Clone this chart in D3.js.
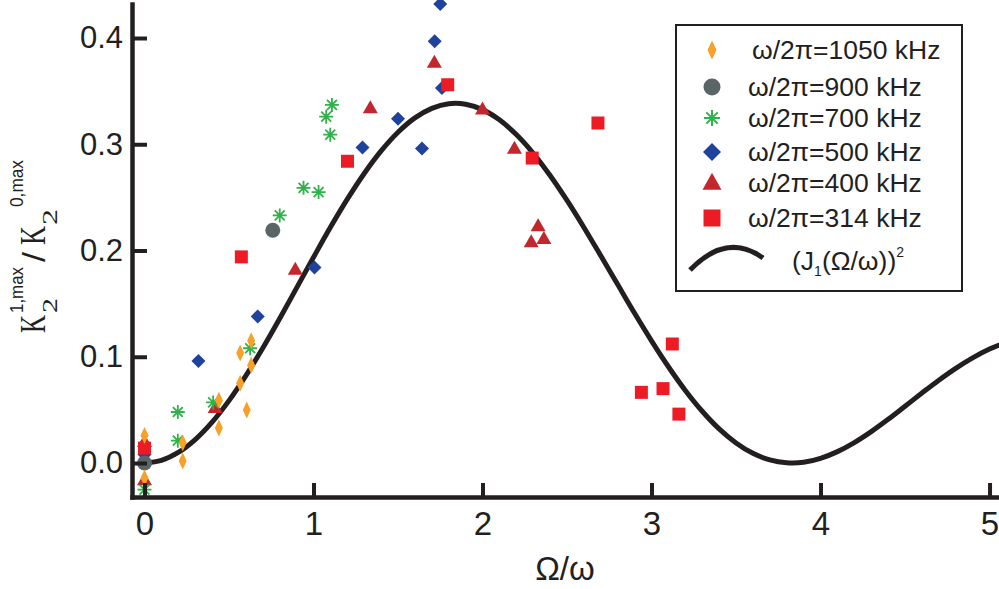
<!DOCTYPE html>
<html><head><meta charset="utf-8">
<script src="https://cdn.jsdelivr.net/npm/d3@7"></script>
<style>body{margin:0;background:#fff}svg{display:block}</style>
</head><body>
<svg id="c" width="999" height="589"></svg>
<script>
// ---- data ----
const xTicks = [0, 1, 2, 3, 4, 5];
const yTicks = [0.0, 0.1, 0.2, 0.3, 0.4];

const s1050 = [[0,0.026],[0,-0.014],[0.226,0.019],[0.226,0.002],[0.44,0.059],[0.44,0.033],[0.566,0.075],[0.566,0.1035],[0.605,0.05],[0.631,0.092],[0.631,0.115]];
const s900  = [[0,0.0],[0.759,0.219]];
const s700  = [[0,-0.025],[0.197,0.048],[0.197,0.021],[0.406,0.057],[0.625,0.108],[0.80,0.233],[0.941,0.259],[1.03,0.255],[1.109,0.337],[1.075,0.326],[1.099,0.309]];
const s500  = [[0,0.008],[0.319,0.096],[0.670,0.138],[1.006,0.184],[1.29,0.297],[1.50,0.324],[1.642,0.296],[1.76,0.353],[1.717,0.397],[1.75,0.432]];
const s400  = [[0,0.02],[0,-0.016],[0.418,0.052],[0.892,0.182],[1.336,0.334],[1.715,0.377],[2.0,0.333],[2.189,0.296],[2.329,0.223],[2.288,0.208],[2.363,0.211]];
const s314  = [[0,0.014],[0.573,0.194],[1.201,0.284],[1.794,0.356],[2.294,0.287],[2.683,0.320],[2.94,0.0665],[3.068,0.070],[3.123,0.112],[3.162,0.046]];

const curveX = [0,0.1,0.2,0.3,0.4,0.5,0.6,0.7,0.8,0.9,1.0,1.1,1.2,1.3,1.4,1.5,1.6,1.7,1.8,1.9,2.0,2.1,2.2,2.3,2.4,2.5,2.6,2.7,2.8,2.9,3.0,3.1,3.2,3.3,3.4,3.5,3.6,3.7,3.8,3.9,4.0,4.1,4.2,4.3,4.4,4.5,4.6,4.7,4.8,4.9,5.0,5.1];
const curveY = [0,0.0025,0.0099,0.0220,0.0384,0.0587,0.0822,0.1082,0.1360,0.1648,0.1936,0.2218,0.2483,0.2725,0.2937,0.3113,0.3248,0.3338,0.3382,0.3377,0.3326,0.3230,0.3091,0.2915,0.2706,0.2471,0.2217,0.1950,0.1679,0.1409,0.1150,0.0906,0.0683,0.0487,0.0321,0.0189,0.0091,0.0029,0.0002,0.0007,0.0044,0.0107,0.0192,0.0295,0.0411,0.0534,0.0658,0.0779,0.0891,0.0990,0.1073,0.1136];

const legendLabels = ["ω/2π=1050 kHz","ω/2π=900 kHz","ω/2π=700 kHz","ω/2π=500 kHz","ω/2π=400 kHz","ω/2π=314 kHz"];

// ---- styles ----
const INK = "#231f20";
const C = {o:"#f7a12b", g:"#5b6566", gr:"#2db34a", b:"#1f429c", t:"#c1272d", s:"#ed1c24"};

const svg = d3.select("#c");
const x = d3.scaleLinear().domain([-0.074, 5.056]).range([132, 999]);
const y = d3.scaleLinear().domain([-0.032, 0.432]).range([497, 4]);

const sym = {
  dNarrow: (w,h)=>`M0,${-h/2}L${w/2},0L0,${h/2}L${-w/2},0Z`,
  diamond: (w,h)=>`M0,${-h/2}L${w/2},0L0,${h/2}L${-w/2},0Z`,
  tri: (w,h)=>`M0,${-h*0.6}L${w/2},${h*0.4}L${-w/2},${h*0.4}Z`,
  sq: (s)=>`M${-s/2},${-s/2}h${s}v${s}h${-s}Z`,
  star: (r)=>{const d=r*0.7071;return `M0,${-r}V${r}M${-r},0H${r}M${-d},${-d}L${d},${d}M${-d},${d}L${d},${-d}`;}
};

const line = d3.line().x((d,i)=>x(curveX[i])).y(d=>y(d)).curve(d3.curveCatmullRom);
svg.append("defs").append("clipPath").attr("id","clip").append("rect").attr("x",132).attr("y",0).attr("width",867).attr("height",497);
svg.append("path").attr("d", line(curveY)).attr("fill","none").attr("stroke",INK).attr("stroke-width",5).attr("clip-path","url(#clip)");

function plot(data, d, fill, stroke, sw){
  svg.append("g").selectAll("path").data(data).join("path")
    .attr("transform", p=>`translate(${x(p[0])},${y(p[1])})`)
    .attr("d", d)
    .attr("fill", fill).attr("stroke", stroke||"none").attr("stroke-width", sw||0);
}
plot(s400, sym.tri(15,13), C.t);
plot(s500, sym.diamond(14,14), C.b);
plot(s314, sym.sq(13), C.s);
plot(s700, sym.star(7), "none", C.gr, 1.8);
svg.append("g").selectAll("circle").data(s900).join("circle")
  .attr("cx",p=>x(p[0])).attr("cy",p=>y(p[1])).attr("r",7.5).attr("fill",C.g);
plot(s1050, sym.dNarrow(8,17), C.o);

const ax = svg.append("g").attr("transform","translate(0,497)")
  .call(d3.axisBottom(x).tickValues(xTicks).tickFormat(d3.format("d")).tickSize(-14).tickSizeOuter(0).tickPadding(15));
const ay = svg.append("g").attr("transform","translate(132,0)")
  .call(d3.axisLeft(y).tickValues(yTicks).tickFormat(d3.format(".1f")).tickSize(-15).tickSizeOuter(0).tickPadding(9));
[ax, ay].forEach(a=>{
  a.select(".domain").attr("stroke",INK).attr("stroke-width",4.5).attr("stroke-linecap","square");
  a.selectAll(".tick line").attr("stroke",INK).attr("stroke-width",4);
  a.selectAll("text").attr("fill",INK);
});
ax.selectAll("text").attr("font-family","'Liberation Sans Narrow','Arial Narrow',sans-serif").attr("font-size",33);
ay.selectAll("text").attr("font-family","'Liberation Sans',Arial,sans-serif").attr("font-size",31);

svg.append("text").attr("x",565).attr("y",580).attr("text-anchor","middle")
  .attr("font-family","'Liberation Sans Narrow','Arial Narrow',sans-serif").attr("font-size",33).attr("fill",INK).text("Ω/ω");

const yl = svg.append("g").attr("transform","translate(45,333) rotate(-90)").attr("fill",INK);
function piece(txt, u, len, base, fam, size){
  yl.append("text").attr("x",u).attr("y",base).attr("font-family",fam).attr("font-size",size)
    .attr("textLength",len).attr("lengthAdjust","spacingAndGlyphs").text(txt);
}
const serif = "'Liberation Serif','Times New Roman',serif", sans = "'Liberation Sans',Arial,sans-serif";
piece("K", 0, 18, 0, serif, 36);
piece("2", 20, 15, 12, serif, 21);
piece("1,max", 20, 46, -22, sans, 19);
piece("/", 71, 10, 0, sans, 31);
piece("K", 88, 19, 0, serif, 36);
piece("2", 108, 16, 12, serif, 21);
piece("0,max", 126, 47, -22, sans, 19);

const lg = svg.append("g");
lg.append("rect").attr("x",676).attr("y",25).attr("width",286).attr("height",266).attr("fill","#fff").attr("stroke",INK).attr("stroke-width",2);
const ly = [50, 87, 118, 152, 183, 218];
const lsym = [
  {d:sym.dNarrow(9,19), f:C.o},
  null,
  {d:sym.star(8), f:"none", s:C.gr, w:2},
  {d:sym.diamond(18,18), f:C.b},
  {d:sym.tri(19,17), f:C.t},
  {d:sym.sq(17), f:C.s}
];
lsym.forEach((m,i)=>{
  if(!m){ lg.append("circle").attr("cx",712).attr("cy",ly[i]).attr("r",8.5).attr("fill",C.g); return; }
  lg.append("path").attr("transform",`translate(712,${ly[i]})`).attr("d",m.d).attr("fill",m.f).attr("stroke",m.s||"none").attr("stroke-width",m.w||0);
});
legendLabels.forEach((t,i)=>{
  lg.append("text").attr("x", i===0?752:748).attr("y", ly[i]+9).attr("font-family",sans).attr("font-size",26.5).attr("fill",INK).text(t);
});
lg.append("path").attr("d","M690,270Q727,232 763,258").attr("fill","none").attr("stroke",INK).attr("stroke-width",5);
const jt = lg.append("text").attr("x",792).attr("y",270).attr("font-family",sans).attr("font-size",26.5).attr("fill",INK);
jt.append("tspan").text("(J");
jt.append("tspan").attr("font-size",14).attr("dy",6).text("1");
jt.append("tspan").attr("dy",-6).text("(Ω/ω))");
jt.append("tspan").attr("font-size",14).attr("dy",-13).text("2");
</script>
</body></html>
